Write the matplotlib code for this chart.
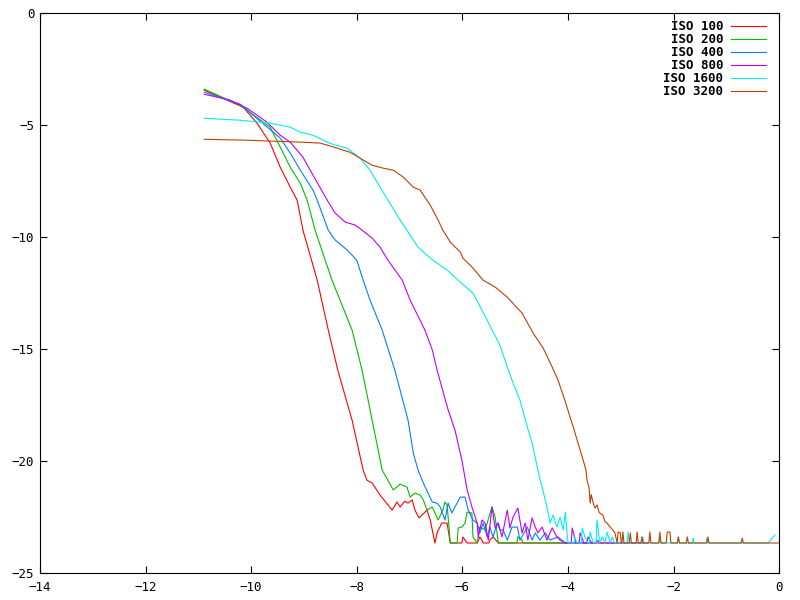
import matplotlib
matplotlib.use("Agg")
import matplotlib.pyplot as plt

# (log exposure, log level) pairs, -23.66 is the noise floor
iso100 = [(-10.89, -3.44), (-10.15, -4.20), (-9.89, -4.91), (-9.64, -5.80), (-9.45, -6.88),
          (-9.26, -7.77), (-9.13, -8.35), (-9.02, -9.69), (-8.75, -11.92), (-8.54, -14.15),
          (-8.36, -15.94), (-8.09, -18.17), (-7.88, -20.40), (-7.81, -20.85), (-7.71, -20.98),
          (-7.56, -21.52), (-7.33, -22.19), (-7.24, -21.83), (-7.18, -22.05), (-7.09, -21.79),
          (-7.03, -21.88), (-6.95, -21.74), (-6.90, -22.19), (-6.82, -22.54), (-6.67, -22.19),
          (-6.61, -22.63), (-6.52, -23.66), (-6.48, -23.21), (-6.39, -22.77), (-6.29, -22.77),
          (-6.23, -23.66), (-6.01, -23.66), (-5.99, -23.39), (-5.91, -23.66), (-5.72, -23.66),
          (-5.67, -23.39), (-5.63, -23.53), (-5.61, -23.66), (-5.50, -23.66), (-5.48, -23.53),
          (-5.42, -23.39), (-5.32, -23.66), (-3.0, -23.66)]

iso200 = [(-10.89, -3.39), (-10.21, -4.11), (-9.64, -5.09), (-9.45, -5.98), (-9.26, -6.88),
          (-9.07, -7.59), (-8.94, -8.35), (-8.79, -9.69), (-8.47, -11.92), (-8.09, -14.15),
          (-7.90, -15.94), (-7.71, -18.17), (-7.52, -20.40), (-7.31, -21.29), (-7.24, -21.16),
          (-7.18, -21.03), (-7.05, -21.16), (-6.99, -21.61), (-6.90, -21.43), (-6.80, -21.52),
          (-6.74, -21.74), (-6.67, -22.19), (-6.57, -22.05), (-6.46, -22.63), (-6.37, -22.19),
          (-6.33, -21.83), (-6.29, -21.96), (-6.25, -23.08), (-6.23, -23.66), (-6.10, -23.66),
          (-6.08, -22.99), (-6.01, -22.95), (-5.95, -22.77), (-5.91, -22.28), (-5.82, -22.32),
          (-5.80, -23.39), (-5.72, -23.66), (-5.67, -22.95), (-5.57, -23.08), (-5.44, -22.05),
          (-5.38, -22.50), (-5.32, -23.66), (-4.97, -23.66), (-4.95, -23.39), (-4.87, -23.53),
          (-4.85, -23.66), (-4.0, -23.66)]

iso400 = [(-10.89, -3.53), (-10.21, -4.06), (-9.45, -5.58), (-9.26, -6.25), (-9.07, -7.01),
          (-8.83, -7.90), (-8.75, -8.35), (-8.54, -9.69), (-8.41, -10.13), (-8.18, -10.58),
          (-8.00, -11.03), (-7.88, -11.92), (-7.75, -12.81), (-7.52, -14.15), (-7.28, -15.94),
          (-7.03, -18.17), (-6.93, -19.64), (-6.84, -20.40), (-6.74, -20.98), (-6.57, -21.83),
          (-6.48, -21.88), (-6.42, -22.05), (-6.33, -22.63), (-6.27, -21.88), (-6.20, -22.32),
          (-6.14, -22.05), (-6.04, -21.61), (-5.95, -21.61), (-5.89, -22.19), (-5.80, -22.63),
          (-5.72, -22.77), (-5.67, -23.21), (-5.61, -22.77), (-5.53, -23.39), (-5.48, -22.95),
          (-5.42, -23.39), (-5.34, -22.77), (-5.29, -23.08), (-5.23, -23.08), (-5.15, -23.53),
          (-5.06, -22.95), (-4.96, -22.95), (-4.91, -23.53), (-4.77, -22.95), (-4.68, -23.53),
          (-4.62, -23.21), (-4.53, -23.53), (-4.43, -23.21), (-4.34, -23.53), (-4.19, -23.39),
          (-4.05, -23.66), (-3.5, -23.66)]

iso800 = [(-10.89, -3.62), (-10.40, -3.88), (-10.08, -4.24), (-9.70, -4.87), (-9.45, -5.45),
          (-9.26, -5.76), (-9.02, -6.43), (-8.83, -7.23), (-8.56, -8.35), (-8.41, -8.93),
          (-8.22, -9.33), (-8.03, -9.46), (-7.90, -9.69), (-7.71, -10.04), (-7.56, -10.45),
          (-7.41, -11.03), (-7.14, -11.92), (-6.99, -12.81), (-6.71, -14.15), (-6.57, -15.04),
          (-6.48, -15.94), (-6.27, -17.72), (-6.14, -18.62), (-6.01, -19.96), (-5.91, -21.29),
          (-5.82, -22.05), (-5.72, -22.77), (-5.70, -23.39), (-5.63, -22.63), (-5.57, -22.77),
          (-5.51, -23.53), (-5.44, -22.05), (-5.38, -22.99), (-5.32, -22.77), (-5.25, -23.39),
          (-5.15, -22.19), (-5.10, -22.99), (-5.04, -22.50), (-4.95, -22.10), (-4.87, -23.21),
          (-4.81, -22.77), (-4.76, -23.53), (-4.68, -22.54), (-4.62, -22.95), (-4.57, -23.21),
          (-4.49, -22.95), (-4.40, -23.53), (-4.30, -22.99), (-4.21, -23.39), (-4.15, -23.53),
          (-4.05, -23.66), (-3.94, -23.66), (-3.92, -22.99), (-3.85, -23.66), (-3.79, -23.66),
          (-3.77, -23.21), (-3.70, -23.66), (-3.64, -23.66), (-3.62, -23.39), (-3.55, -23.66),
          (-3.47, -23.66), (-3.45, -23.53), (-3.40, -23.66), (-2.5, -23.66)]

iso1600 = [(-10.89, -4.69), (-10.21, -4.78), (-9.64, -4.91), (-9.26, -5.09), (-9.07, -5.31),
           (-8.83, -5.45), (-8.56, -5.76), (-8.41, -5.89), (-8.18, -6.03), (-7.94, -6.47),
           (-7.75, -7.01), (-7.56, -7.77), (-7.41, -8.35), (-7.18, -9.24), (-7.05, -9.69),
           (-6.84, -10.45), (-6.56, -11.03), (-6.29, -11.47), (-6.04, -12.01), (-5.80, -12.50),
           (-5.63, -13.26), (-5.29, -14.82), (-5.15, -15.80), (-5.04, -16.52), (-4.91, -17.28),
           (-4.77, -18.48), (-4.68, -19.20), (-4.59, -20.18), (-4.53, -20.85), (-4.49, -21.16),
           (-4.40, -22.05), (-4.34, -22.77), (-4.28, -22.41), (-4.21, -22.95), (-4.15, -22.50),
           (-4.09, -23.08), (-4.05, -22.28), (-4.02, -23.17), (-4.00, -23.66), (-3.89, -23.66),
           (-3.87, -23.39), (-3.83, -23.66), (-3.75, -23.66), (-3.73, -22.99), (-3.68, -23.39),
           (-3.62, -23.66), (-3.60, -23.66), (-3.58, -23.17), (-3.52, -23.66), (-3.47, -23.66),
           (-3.45, -22.63), (-3.40, -23.66), (-3.35, -23.39), (-3.30, -23.66), (-3.26, -23.17),
           (-3.20, -23.66), (-3.16, -23.39), (-3.12, -23.66), (-2.88, -23.66), (-2.86, -23.17),
           (-2.84, -23.66), (-2.60, -23.66), (-2.58, -23.39), (-2.56, -23.66), (-2.28, -23.66),
           (-2.26, -23.39), (-2.24, -23.66), (-1.93, -23.66), (-1.91, -23.39), (-1.89, -23.66),
           (-1.65, -23.66), (-1.63, -23.44), (-1.61, -23.66), (-1.39, -23.66), (-1.37, -23.44),
           (-1.35, -23.66), (-0.21, -23.66), (-0.08, -23.30)]

iso3200 = [(-10.89, -5.63), (-10.12, -5.67), (-9.04, -5.76), (-8.70, -5.80), (-8.56, -5.89),
           (-8.37, -6.03), (-8.13, -6.21), (-7.94, -6.47), (-7.71, -6.79), (-7.50, -6.92),
           (-7.31, -7.01), (-7.12, -7.32), (-6.93, -7.77), (-6.80, -7.90), (-6.61, -8.57),
           (-6.46, -9.24), (-6.37, -9.69), (-6.23, -10.22), (-6.04, -10.67), (-5.99, -10.94),
           (-5.80, -11.38), (-5.61, -11.92), (-5.38, -12.23), (-5.15, -12.68), (-4.96, -13.17),
           (-4.87, -13.39), (-4.66, -14.29), (-4.47, -14.96), (-4.30, -15.80), (-4.19, -16.38),
           (-4.06, -17.28), (-3.96, -18.04), (-3.90, -18.48), (-3.81, -19.20), (-3.73, -19.82),
           (-3.66, -20.40), (-3.64, -20.85), (-3.60, -21.20), (-3.58, -21.88), (-3.56, -21.50),
           (-3.52, -21.90), (-3.49, -22.10), (-3.45, -21.96), (-3.41, -22.30), (-3.34, -22.41),
           (-3.30, -22.70), (-3.26, -22.77), (-3.20, -22.95), (-3.15, -23.08), (-3.11, -23.21),
           (-3.07, -23.66), (-3.05, -23.17), (-3.01, -23.21), (-2.99, -23.66), (-2.98, -23.66),
           (-2.96, -23.17), (-2.94, -23.66), (-2.84, -23.66), (-2.82, -23.21), (-2.80, -23.66),
           (-2.71, -23.66), (-2.69, -23.17), (-2.67, -23.66), (-2.62, -23.66), (-2.60, -23.39),
           (-2.58, -23.66), (-2.47, -23.66), (-2.45, -23.17), (-2.43, -23.66), (-2.28, -23.66),
           (-2.26, -23.17), (-2.24, -23.66), (-2.14, -23.66), (-2.12, -23.17), (-2.07, -23.17),
           (-2.05, -23.66), (-1.93, -23.66), (-1.91, -23.39), (-1.89, -23.66), (-1.76, -23.66),
           (-1.74, -23.39), (-1.72, -23.66), (-1.37, -23.66), (-1.35, -23.39), (-1.33, -23.66),
           (-0.72, -23.66), (-0.70, -23.44), (-0.68, -23.66), (0.0, -23.66)]

labels = ["ISO 100", "ISO 200", "ISO 400", "ISO 800", "ISO 1600", "ISO 3200"]
colors = ["#ff0000", "#00c000", "#0080ff", "#c000ff", "#00eeee", "#c04000"]
curves = [iso100, iso200, iso400, iso800, iso1600, iso3200]

plt.rcParams['font.family'] = ['DejaVu Sans Mono']

fig = plt.figure(figsize=(8, 6), dpi=100)
ax = fig.add_axes([0.05, 0.045, 0.924, 0.933])

for label, pts, c in zip(labels, curves, colors):
    xs = [p[0] for p in pts]
    ys = [p[1] for p in pts]
    ax.plot(xs, ys, color=c, lw=0.8, label=label)

ax.set_xlim(-14, 0)
ax.set_ylim(-25, 0)
ax.set_xticks(range(-14, 1, 2))
ax.set_yticks(range(-25, 1, 5))
ax.tick_params(direction='in', length=5, width=0.8, top=True, right=True, labelsize=9)
ax.tick_params(axis='x', pad=6)
ax.tick_params(axis='y', pad=4)
for s in ax.spines.values():
    s.set_linewidth(0.8)

leg = ax.legend(loc='upper right', bbox_to_anchor=(0.982, 0.9875), frameon=False,
                markerfirst=False, fontsize=9, handlelength=2.8, labelspacing=0.0,
                borderaxespad=0, borderpad=0, handletextpad=0.6)
for t in leg.get_texts():
    t.set_fontweight('bold')

fig.savefig("out.png", dpi=100)
